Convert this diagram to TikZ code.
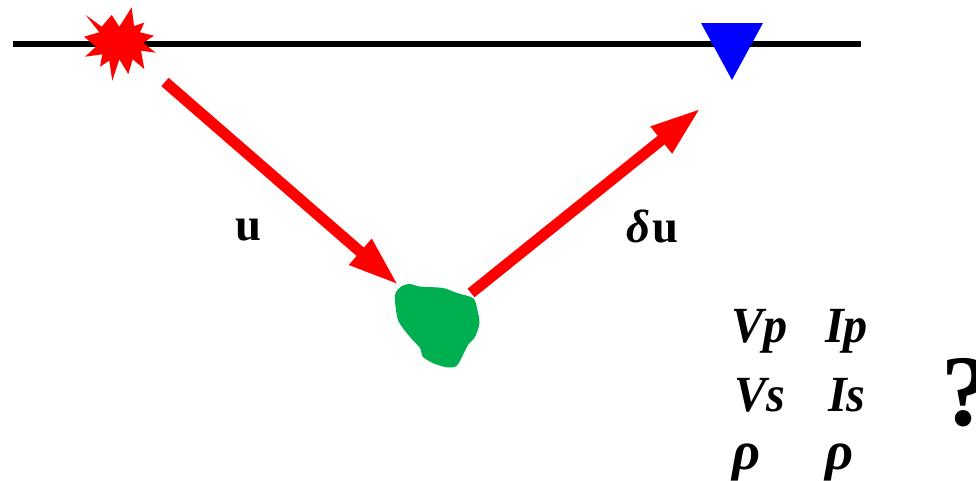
\documentclass[tikz,border=0pt]{standalone}
\usepackage{fontspec}
\usepackage{graphicx}
\setmainfont{Liberation Serif}
\usetikzlibrary{arrows.meta}
\definecolor{blobgreen}{RGB}{0,176,80}
\newcommand{\narrow}[1]{\scalebox{0.95}[1]{#1}}
\tikzset{
  ray/.style={draw=red,fill=red,line width=8.3pt,-{Triangle[length=38pt,width=23.5pt]}},
  lbl/.style={inner sep=0pt,anchor=base west,font=\fontsize{38}{40}\selectfont\bfseries\itshape},
  rho/.style={inner sep=0pt,anchor=base west,font=\fontsize{41}{43}\selectfont\bfseries\itshape},
  wave/.style={inner sep=0pt,anchor=base west,font=\fontsize{35}{38}\selectfont\bfseries}
}
\begin{document}
\begin{tikzpicture}[x=0.75pt,y=-0.75pt]
\useasboundingbox (0,0) rectangle (976,480);
\clip (0,0) rectangle (976,480);
\coordinate (ls) at (13,44);
\coordinate (le) at (861,44);
\draw[line width=4.6pt,black] (ls) -- (le);
\fill[red] (85.7,15)--(101.7,26.7)--(111.7,15)--(119.3,26.7)--(131.7,7.3)--(134,26)--(144.3,22.7)--(140,32.3)--(154,35.7)--(143.3,42.7)--(155.7,52.7)--(141,50.7)--(144.3,69)--(132.7,59.3)--(128.3,74)--(119.3,59.3)--(112.3,80.7)--(109.3,60.7)--(100,66.7)--(102.3,54.3)--(85,56.7)--(96,46.7)--(84,36.7)--(99.3,32.3)--cycle;
\fill[blue] (701,23)--(763,23)--(732,80)--cycle;
\fill[blobgreen] plot[smooth cycle,tension=0.45] coordinates {(395,295) (402,286) (410,284) (420,286.5) (443,288) (457,293) (473,298) (477,308) (479.5,323) (475,337) (468,345) (461.5,358) (456.5,366) (448,367.5) (435,364) (423,357) (420,348) (410,337) (398,320)};
\coordinate (a1s) at (165,82);
\coordinate (a1e) at (398.5,285);
\coordinate (a2s) at (471,293);
\coordinate (a2e) at (700.7,108.3);
\draw[ray] (a1s) -- (a1e);
\draw[ray] (a2s) -- (a2e);
\node[wave] (u) at (235,240) {u};
\node[wave] (du) at (626,242) {\textit{δ}\hspace{1.5pt}u};
\node[lbl] (vp) at (731,342) {\narrow{Vp}};
\node[lbl] (ip) at (825,342) {\narrow{Ip}};
\node[lbl] (vs) at (734,411) {\narrow{Vs}};
\node[lbl] (is) at (828,411) {\narrow{Is}};
\node[rho] (r1) at (732,469) {ρ};
\node[rho] (r2) at (825,469) {ρ};
\node[inner sep=0pt,anchor=base west,font=\fontsize{76}{78}\selectfont\bfseries] (q) at (941,425) {?};
\end{tikzpicture}
\end{document}
